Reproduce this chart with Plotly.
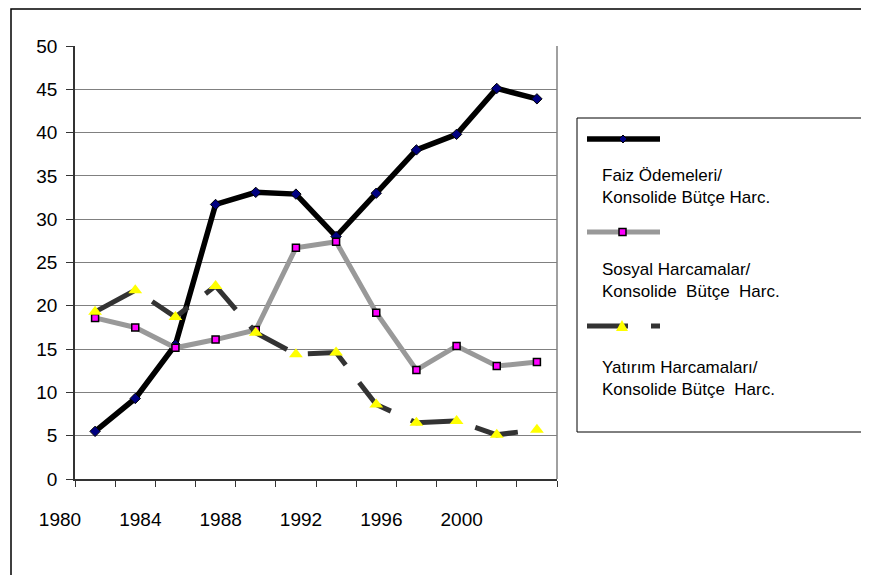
import plotly.graph_objects as go

# ---- data ----
years = [1981, 1983, 1985, 1987, 1989, 1991, 1993, 1995, 1997, 1999, 2001, 2003]
faiz = [5.5, 9.3, 15.5, 31.7, 33.1, 32.9, 28.0, 33.0, 38.0, 39.8, 45.1, 43.9]
sosyal = [18.6, 17.5, 15.15, 16.1, 17.2, 26.7, 27.4, 19.2, 12.6, 15.35, 13.05, 13.5]
yatirim = [19.3, 21.8, 18.7, 22.3, 16.9, 14.4, 14.6, 8.6, 6.5, 6.7, 5.1, 5.7]
year_tick_vals = [1980, 1984, 1988, 1992, 1996, 2000]
year_tick_text = ["1980", "1984", "1988", "1992", "1996", "2000"]
y_ticks = [0, 5, 10, 15, 20, 25, 30, 35, 40, 45, 50]
series_names = [
    "Faiz Ödemeleri/<br>Konsolide Bütçe Harc.",
    "Sosyal Harcamalar/<br>Konsolide&nbsp; Bütçe&nbsp; Harc.",
    "Yatırım Harcamaları/<br>Konsolide Bütçe&nbsp; Harc.",
]

# ---- geometry (page offset of 8px from the default body margin) ----
OFF = 8
W, H = 869 - OFF, 575 - OFF
L, R, T, B = 75 - OFF, 312, 46 - OFF, 96
FONT = "Arial, Liberation Sans, sans-serif"


def px(x):
    return (x - OFF - L) / (W - L - R)


def py(y):
    return (H - B - (y - OFF)) / (H - T - B)


fig = go.Figure()
fig.add_trace(go.Scatter(
    x=years, y=faiz, mode="lines+markers", name=series_names[0],
    line=dict(color="#000000", width=5.5),
    marker=dict(symbol="diamond", size=8, color="#000080", line=dict(color="#000000", width=1)),
))
fig.add_trace(go.Scatter(
    x=years, y=sosyal, mode="lines+markers", name=series_names[1],
    line=dict(color="#999999", width=5),
    marker=dict(symbol="square", size=7, color="#FF00FF", line=dict(color="#000000", width=1.5)),
))
fig.add_trace(go.Scatter(
    x=years, y=yatirim, mode="lines+markers", name=series_names[2],
    line=dict(color="#333333", width=5, dash="44px,22px"),
    marker=dict(symbol="triangle-up", size=12, color="#FFFF00", line=dict(width=0)),
))

shapes = []
# outer chart border (extends past the right / bottom edge)
shapes.append(dict(type="rect", xref="paper", yref="paper",
                   x0=px(11), x1=px(905), y0=py(9), y1=py(610),
                   line=dict(color="#000000", width=1.5), fillcolor="rgba(0,0,0,0)"))
# right edge of plot area
shapes.append(dict(type="line", xref="paper", yref="paper",
                   x0=1, x1=1, y0=0, y1=1, line=dict(color="#808080", width=1.5)))
# legend box
shapes.append(dict(type="rect", xref="paper", yref="paper",
                   x0=px(577), x1=px(905), y0=py(118), y1=py(432),
                   line=dict(color="#000000", width=1), fillcolor="rgba(0,0,0,0)"))

# legend samples
ly = [139, 232, 326]
shapes.append(dict(type="line", xref="paper", yref="paper",
                   x0=px(587), x1=px(660), y0=py(ly[0]), y1=py(ly[0]),
                   line=dict(color="#000000", width=5.5)))
shapes.append(dict(type="path", xref="paper", yref="paper",
                   path="M {} {} L {} {} L {} {} L {} {} Z".format(
                       px(623), py(ly[0] - 4), px(627), py(ly[0]), px(623), py(ly[0] + 4), px(619), py(ly[0])),
                   fillcolor="#000080", line=dict(color="#000000", width=1)))
shapes.append(dict(type="line", xref="paper", yref="paper",
                   x0=px(587), x1=px(660), y0=py(ly[1]), y1=py(ly[1]),
                   line=dict(color="#999999", width=5)))
shapes.append(dict(type="rect", xref="paper", yref="paper",
                   x0=px(619), x1=px(626), y0=py(ly[1] - 3.5), y1=py(ly[1] + 3.5),
                   fillcolor="#FF00FF", line=dict(color="#000000", width=1.5)))
shapes.append(dict(type="line", xref="paper", yref="paper",
                   x0=px(587), x1=px(660), y0=py(ly[2]), y1=py(ly[2]),
                   line=dict(color="#333333", width=5, dash="41px,23px")))
shapes.append(dict(type="path", xref="paper", yref="paper",
                   path="M {} {} L {} {} L {} {} Z".format(
                       px(622), py(ly[2] - 6), px(628), py(ly[2] + 5), px(616), py(ly[2] + 5)),
                   fillcolor="#FFFF00", line=dict(width=0)))

annotations = []
text_centers = [187, 280, 378]
for name, cy in zip(series_names, text_centers):
    annotations.append(dict(
        text=name, xref="paper", yref="paper", x=px(600), y=py(cy),
        xanchor="left", yanchor="middle", align="left", showarrow=False,
        font=dict(family=FONT, size=17, color="#000000"),
    ))

fig.update_layout(
    width=W, height=H,
    margin=dict(l=L, r=R, t=T, b=B, pad=0),
    paper_bgcolor="#FFFFFF", plot_bgcolor="#FFFFFF",
    showlegend=False,
    font=dict(family=FONT, size=19, color="#000000"),
    shapes=shapes, annotations=annotations,
    xaxis=dict(
        range=[1980, 2004], tickvals=year_tick_vals, ticktext=year_tick_text,
        ticks="outside", ticklen=6, tickwidth=1, tickcolor="#333333",
        showline=True, linecolor="#333333", linewidth=1.5,
        showgrid=False, zeroline=False,
        minor=dict(dtick=2, tick0=1980, ticks="outside", ticklen=6, tickwidth=1,
                   tickcolor="#333333", showgrid=False),
        ticklabelshift=-15, ticklabelstandoff=16,
        tickfont=dict(family=FONT, size=19, color="#000000"),
    ),
    yaxis=dict(
        range=[0, 50], tickvals=y_ticks,
        ticks="outside", ticklen=7, tickwidth=1, tickcolor="#333333",
        showline=True, linecolor="#333333", linewidth=1.5,
        showgrid=True, gridcolor="#808080", gridwidth=1.2, zeroline=False,
        ticklabelstandoff=5,
        tickfont=dict(family=FONT, size=19, color="#000000"),
    ),
)

fig.write_html("out.html")
